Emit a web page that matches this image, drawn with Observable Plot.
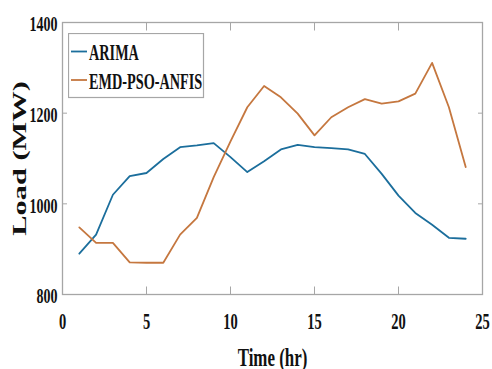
<!DOCTYPE html>
<html>
<head>
<meta charset="utf-8">
<script src="https://cdn.jsdelivr.net/npm/d3@7"></script>
<script src="https://cdn.jsdelivr.net/npm/@observablehq/plot@0.6"></script>
<style>
  html, body { margin: 0; padding: 0; background: #fff; }
  #chart { position: relative; width: 492px; height: 369px; }
  #legend { position: absolute; left: 68px; top: 33px; }
</style>
</head>
<body>
<div id="chart"></div>
<script>
// Hourly load forecasts (MW) for one day
const hours = [1, 2, 3, 4, 5, 6, 7, 8, 9, 10, 11, 12, 13, 14, 15, 16, 17, 18, 19, 20, 21, 22, 23, 24];
const arima = [890, 932, 1020, 1061, 1068, 1099, 1125, 1129, 1134, 1103, 1070, 1094,
               1120, 1130, 1125, 1123, 1120, 1110, 1066, 1018, 980, 954, 925, 923];
const emdPsoAnfis = [948, 914, 914, 871, 870, 870, 932, 969, 1059, 1138, 1213, 1260,
                     1235, 1199, 1151, 1191, 1213, 1231, 1221, 1226, 1243, 1311, 1213, 1081];
const seriesNames = ["ARIMA", "EMD-PSO-ANFIS"];
const seriesColors = ["#1b6e9c", "#c5773f"];
const xTicks = [0, 5, 10, 15, 20, 25];
const yTicks = [800, 1000, 1200, 1400];

const rows = [];
hours.forEach((h, i) => {
  rows.push({hour: h, load: arima[i], model: seriesNames[0]});
  rows.push({hour: h, load: emdPsoAnfis[i], model: seriesNames[1]});
});

const serif = "'Liberation Serif', 'Times New Roman', serif";
const boxGray = "#a6a6a6";
const plain = d => String(d);

const chart = Plot.plot({
  width: 492,
  height: 369,
  marginLeft: 62,
  marginRight: 10,
  marginTop: 22,
  marginBottom: 75,
  style: {fontFamily: serif, background: "#fff", color: "#111", overflow: "visible"},
  x: {domain: [0, 25]},
  y: {domain: [800, 1400]},
  color: {domain: seriesNames, range: seriesColors},
  marks: [
    Plot.frame({stroke: boxGray, strokeWidth: 1.3}),
    // inward tick marks on all four sides
    Plot.axisX({ticks: xTicks, anchor: "bottom", tickSize: -7.5, stroke: boxGray, fill: "none", label: null}),
    Plot.axisX({ticks: xTicks, anchor: "top", tickSize: -7.5, stroke: boxGray, fill: "none", label: null}),
    Plot.axisY({ticks: yTicks, anchor: "left", tickSize: -5, stroke: boxGray, fill: "none", label: null}),
    Plot.axisY({ticks: yTicks, anchor: "right", tickSize: -5, stroke: boxGray, fill: "none", label: null}),
    // tick labels and axis titles
    Plot.axisX({ticks: xTicks, tickFormat: plain, anchor: "bottom", tickSize: 0, tickPadding: 18,
      fontSize: 23, fontWeight: "bold", fill: "#111",
      label: "Time (hr)", labelAnchor: "center", labelOffset: 71, labelArrow: "none"}),
    Plot.axisY({ticks: yTicks, tickFormat: plain, anchor: "left", tickSize: 0, tickPadding: 5, dy: 2,
      fontSize: 21.5, fontWeight: "bold", fill: "#111",
      label: "Load (MW)", labelAnchor: "center", labelOffset: 50, labelArrow: "none"}),
    Plot.line(rows, {x: "hour", y: "load", z: "model", stroke: "model", strokeWidth: 1.8})
  ]
});

const holder = document.getElementById("chart");
holder.append(chart);

// condensed serif lettering
function squeeze(selector, k, size) {
  chart.querySelectorAll(selector).forEach(t => {
    if (size) t.style.fontSize = size + "px";
    const w = t.getComputedTextLength();
    t.setAttribute("textLength", w * k);
    t.setAttribute("lengthAdjust", "spacingAndGlyphs");
  });
}
squeeze('g[aria-label="x-axis tick label"] text', 0.63);
squeeze('g[aria-label="y-axis tick label"] text', 0.65);
squeeze('g[aria-label="x-axis label"] text', 0.65, 26);
squeeze('g[aria-label="y-axis label"] text', 1.6, 19);

// legend box
const legend = d3.select(holder).append("svg")
  .attr("id", "legend")
  .attr("width", 137)
  .attr("height", 66);
legend.append("rect")
  .attr("x", 0.5).attr("y", 0.5).attr("width", 135).attr("height", 64)
  .attr("fill", "#fff").attr("stroke", boxGray).attr("stroke-width", 1.2);
const item = legend.selectAll("g.item")
  .data(seriesNames)
  .join("g")
  .attr("class", "item")
  .attr("transform", (d, i) => `translate(0,${18.5 + i * 28.5})`);
item.append("line")
  .attr("x1", 3).attr("x2", 19)
  .attr("stroke", (d, i) => seriesColors[i]).attr("stroke-width", 1.8);
item.append("text")
  .attr("x", 21).attr("y", 8.5)
  .attr("font-family", serif).attr("font-weight", "bold").attr("font-size", 23)
  .attr("fill", "#111")
  .text(d => d)
  .each(function() {
    const w = this.getComputedTextLength();
    this.setAttribute("textLength", w * 0.62);
    this.setAttribute("lengthAdjust", "spacingAndGlyphs");
  });
</script>
</body>
</html>
